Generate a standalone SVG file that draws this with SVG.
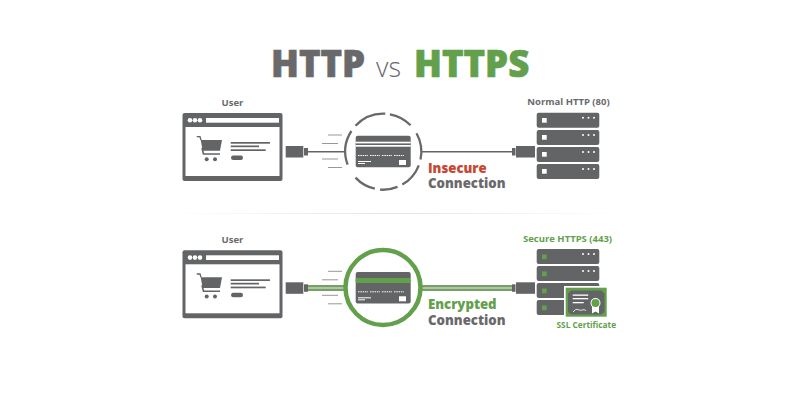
<svg xmlns="http://www.w3.org/2000/svg" width="800" height="400" viewBox="0 0 800 400">
<style>
text{font-family:"Open Sans","Noto Sans","Liberation Sans",sans-serif;font-weight:700;fill:#69696c}
.g{fill:#636466}.w{fill:#fff}.gr{fill:#62a04c}
text.gr{fill:#62a04c}
.t{font-size:36.500px;font-weight:800;stroke:#69696c;stroke-width:.7}
text.t.gr{stroke:#62a04c}
.lab{font-size:9.500px}
.big{font-size:13.200px;font-weight:800}
.mot{stroke:#97989a;stroke-width:1;fill:none}
</style>
<defs>
<linearGradient id="fade"><stop offset="0" stop-color="#fff"/><stop offset=".5" stop-color="#e4e4e4"/><stop offset="1" stop-color="#fff"/></linearGradient>
<g id="browser">
<rect x="182.500" y="113" width="100" height="68" rx="2" class="g"/>
<rect x="185.500" y="127" width="94" height="49" class="w"/>
<rect x="206" y="118" width="73" height="4.700" class="w"/>
<circle cx="190" cy="120.300" r="2.300" class="w"/><circle cx="195" cy="120.300" r="2.300" class="w"/><circle cx="200" cy="120.300" r="2.300" class="w"/>
<path d="M196.700 136.700h3.300l1 3.300" fill="none" stroke="#636466" stroke-width="1.300"/>
<path d="M200.700 140H222l-2 10.700h-17.300z" class="g"/>
<path d="M202 148l1.500 6H220" fill="none" stroke="#636466" stroke-width="1.600"/>
<circle cx="206.700" cy="159.300" r="2" class="g"/><circle cx="215" cy="159.300" r="2" class="g"/>
<rect x="230.700" y="142" width="39.300" height="1.700" class="g"/>
<rect x="230.700" y="145.500" width="28.300" height="1.700" class="g"/>
<rect x="230.700" y="149.300" width="35" height="1.700" class="g"/>
<rect x="231" y="155.500" width="12" height="4.500" rx="2.200" class="g"/>
</g>
<g id="card">
<rect x="355.700" y="135.700" width="55" height="31.600" rx="2" class="g"/>
<rect x="355.700" y="141.700" width="55" height="5" class="w"/>
<rect x="355.700" y="143.400" width="55" height="1.600" class="g"/>
<path d="M358 155.500h10M370 155.500h10M382 155.500h10M394 155.500h10" stroke="#fff" stroke-width="1" stroke-dasharray="1.500 .8" fill="none"/>
<rect x="358" y="161" width="13" height="1" class="w"/>
<rect x="358" y="163" width="7" height="1" class="w"/>
<rect x="399" y="160" width="7" height="5" class="w"/>
</g>
<g id="motion">
<path class="mot" d="M328 135h14M322 143.500h16M322 159h16M328 167.500h14"/>
</g>
<g id="plugL">
<rect x="285.700" y="146" width="17.600" height="11.500" class="g"/>
<rect x="304" y="148" width="4" height="7.500" class="g"/>
</g>
<g id="plugR">
<rect x="516" y="146" width="19" height="11.500" class="g"/>
<rect x="512" y="148" width="3.500" height="7.500" class="g"/>
</g>
<g id="srv">
<rect x="536.700" y="0" width="62.600" height="15" rx="2" class="g"/>
<circle cx="583" cy="5" r="1" class="w"/><circle cx="588.500" cy="5" r="1" class="w"/><circle cx="594" cy="5" r="1" class="w"/>
</g>
</defs>

<g id="title">
<text x="271" y="77" class="t">HTTP</text>
<text x="376" y="77" font-size="27" style="font-weight:300">vs</text>
<text x="414" y="77" class="t gr">HTTPS</text>
</g>

<rect id="divider" x="170" y="213" width="450" height="1" fill="url(#fade)"/>

<g id="connectors">
<path d="M308 151.700H345" stroke="#636466" stroke-width="1.500" fill="none"/>
<path d="M421 151.700H512" stroke="#636466" stroke-width="1.500" fill="none"/>
<rect x="308" y="285" width="38" height="6" fill="#76a066"/>
<rect x="308" y="287.300" width="38" height="1.400" fill="#c6d8bd"/>
<rect x="421" y="285" width="91" height="6" fill="#76a066"/>
<rect x="421" y="287.300" width="91" height="1.400" fill="#c6d8bd"/>
<use href="#plugL"/><use href="#plugR"/>
<use href="#plugL" y="136.300"/><use href="#plugR" y="136.300"/>
</g>

<g id="user-http">
<text x="232.500" y="105.700" text-anchor="middle" class="lab">User</text>
<use href="#browser"/>
<use href="#motion"/>
</g>

<g id="card-http">
<path fill="none" stroke="#69696c" stroke-width="2.300" d="M355.500 125.800A38 38 0 0 1 385.300 113.700M389.900 114.300A38 38 0 0 1 410.600 125.300M416.500 133.300A38 38 0 0 1 420.500 159.600M418.800 165.300A38 38 0 0 1 402.300 184.600M397.500 186.900A38 38 0 0 1 380 189.600M374.800 188.700A38 38 0 0 1 355.500 177.600M347.600 164.700A38 38 0 0 1 351.400 131"/>
<use href="#card"/>
</g>

<g id="insecure-label">
<text x="428" y="172.500" class="big" style="fill:#c9452f">Insecure</text>
<text x="428" y="188.300" class="big">Connection</text>
</g>

<g id="server-http">
<text x="568.500" y="104.500" text-anchor="middle" class="lab">Normal HTTP (80)</text>
<use href="#srv" y="112.700"/><use href="#srv" y="130"/><use href="#srv" y="147"/><use href="#srv" y="164"/>
<rect x="542" y="118" width="4.700" height="4.700" class="w"/>
<rect x="542" y="135" width="4.700" height="4.700" class="w"/>
<rect x="542" y="152" width="4.700" height="4.700" class="w"/>
<rect x="542" y="169" width="4.700" height="4.700" class="w"/>
</g>

<g id="user-https">
<text x="232.500" y="242.700" text-anchor="middle" class="lab">User</text>
<use href="#browser" y="137.300"/>
<use href="#motion" y="136.300"/>
</g>

<g id="card-https">
<circle cx="383" cy="287.500" r="37.500" fill="none" stroke="#62a04c" stroke-width="4.500"/>
<use href="#card" y="136.300"/>
<rect x="355.700" y="278" width="55" height="5" class="gr"/>
</g>

<g id="encrypted-label">
<text x="428" y="309.300" class="big gr">Encrypted</text>
<text x="428" y="325" class="big">Connection</text>
</g>

<g id="server-https">
<text x="523" y="242.300" class="lab gr">Secure HTTPS (443)</text>
<use href="#srv" y="249"/><use href="#srv" y="266"/><use href="#srv" y="283"/><use href="#srv" y="300"/>
<rect x="542" y="254.500" width="4.700" height="4.700" class="gr"/>
<rect x="542" y="271.500" width="4.700" height="4.700" class="gr"/>
<rect x="542" y="288.500" width="4.700" height="4.700" class="gr"/>
<rect x="542" y="305.500" width="4.700" height="4.700" class="gr"/>
</g>

<g id="ssl-certificate">
<rect x="564" y="286" width="44" height="32.500" class="w"/>
<rect x="565.700" y="287.700" width="41" height="29" class="gr"/>
<path d="M571 290.500h30.500l3 3v18.500l-3 2.500H571l-3-2.500v-18.500z" class="g"/>
<rect x="572.700" y="294.500" width="15.500" height="1.300" class="w"/>
<rect x="572.700" y="298" width="15.500" height="1.300" class="w"/>
<rect x="572.700" y="302" width="11" height="1.300" class="w"/>
<path d="M573 312q3-4 5-2.500t4 .5 4 .5" fill="none" stroke="#fff" stroke-width=".8"/>
<path d="M592 306v7.500l3.500-2 3.500 2v-7.500z" class="w"/>
<circle cx="595.500" cy="303" r="5" fill="#fff"/>
<circle cx="595.500" cy="303" r="4" class="gr"/>
<text x="586.300" y="327.700" text-anchor="middle" class="gr" font-size="8.300">SSL Certificate</text>
</g>
</svg>
